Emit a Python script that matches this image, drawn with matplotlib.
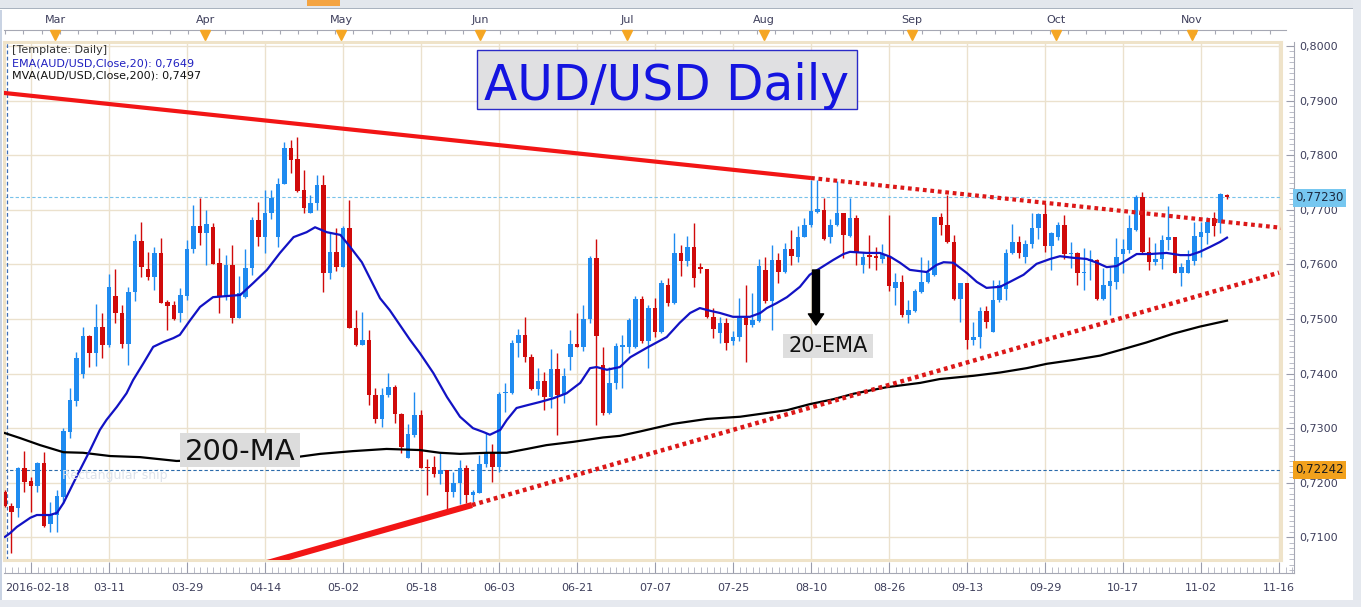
import matplotlib
matplotlib.use("Agg")
import matplotlib.pyplot as plt
import matplotlib.transforms as mtransforms
from matplotlib.patches import Rectangle, FancyArrowPatch
from matplotlib.ticker import MultipleLocator, FixedLocator, FuncFormatter
import numpy as np

W, H = 1361, 607

# daily AUD/USD candles (bar 0 = 2016-02-12 ... bar 188 = 2016-11-08)
opens = [
    .7184, .7158, .7154, .7227, .7203, .7194, .7236, .7125, .7141, .7174,
    .7293, .7350, .7399, .7469, .7438, .7485, .7452, .7542, .7511, .7454,
    .7549, .7643, .7592, .7577, .7621, .7531, .7526, .7511, .7542, .7628,
    .7670, .7657, .7668, .7603, .7542, .7599, .7502, .7540, .7593, .7681,
    .7650, .7694, .7650, .7747, .7813, .7793, .7736, .7694, .7712, .7745,
    .7584, .7623, .7595, .7667, .7484, .7452, .7462, .7361, .7317, .7361,
    .7376, .7326, .7245, .7287, .7324, .7229, .7229, .7216, .7223, .7183,
    .7200, .7227, .7178, .7181, .7234, .7256, .7229, .7364, .7364, .7456,
    .7471, .7430, .7372, .7386, .7357, .7408, .7361, .7430, .7454, .7449,
    .7500, .7612, .7416, .7328, .7383, .7449, .7449, .7449, .7537, .7460,
    .7520, .7476, .7562, .7529, .7621, .7606, .7632, .7595, .7592, .7504,
    .7474, .7493, .7460, .7467, .7502, .7489, .7496, .7590, .7533, .7608,
    .7586, .7628, .7614, .7650, .7672, .7696, .7700, .7650, .7672, .7694,
    .7652, .7685, .7599, .7616, .7616, .7610, .7616, .7557, .7568, .7507,
    .7515, .7549, .7568, .7581, .7687, .7672, .7641, .7537, .7566, .7462,
    .7467, .7515, .7476, .7535, .7555, .7621, .7641, .7614, .7637, .7667,
    .7692, .7634, .7650, .7672, .7619, .7621, .7584, .7606, .7608, .7537,
    .7560, .7568, .7619, .7626, .7663, .7723, .7623, .7604, .7610, .7645,
    .7650, .7584, .7584, .7606, .7650, .7658, .7685, .7676, .7727,
]
highs = [
    .7186, .7163, .7229, .7258, .7211, .7238, .7256, .7165, .7187, .7300,
    .7374, .7440, .7485, .7471, .7527, .7511, .7582, .7592, .7526, .7559,
    .7656, .7678, .7623, .7632, .7648, .7535, .7533, .7557, .7645, .7709,
    .7722, .7700, .7676, .7630, .7617, .7636, .7579, .7628, .7687, .7714,
    .7736, .7736, .7758, .7824, .7828, .7833, .7773, .7727, .7764, .7764,
    .7658, .7667, .7670, .7718, .7517, .7513, .7480, .7374, .7374, .7401,
    .7379, .7328, .7308, .7366, .7333, .7244, .7249, .7255, .7223, .7220,
    .7242, .7233, .7187, .7251, .7291, .7271, .7366, .7383, .7462, .7482,
    .7504, .7436, .7410, .7403, .7445, .7438, .7410, .7480, .7511, .7526,
    .7615, .7647, .7449, .7412, .7456, .7471, .7502, .7542, .7542, .7526,
    .7538, .7571, .7575, .7658, .7636, .7652, .7676, .7603, .7592, .7520,
    .7504, .7502, .7478, .7538, .7562, .7548, .7610, .7614, .7636, .7621,
    .7639, .7663, .7670, .7685, .7755, .7755, .7722, .7683, .7753, .7694,
    .7722, .7690, .7623, .7654, .7632, .7637, .7690, .7584, .7581, .7535,
    .7555, .7614, .7608, .7687, .7694, .7727, .7654, .7566, .7566, .7495,
    .7522, .7524, .7571, .7571, .7628, .7674, .7652, .7645, .7694, .7694,
    .7712, .7660, .7678, .7690, .7641, .7623, .7630, .7626, .7610, .7593,
    .7595, .7648, .7647, .7690, .7727, .7733, .7650, .7639, .7654, .7707,
    .7650, .7603, .7626, .7678, .7678, .7687, .7696, .7731, .7729,
]
lows = [
    .7156, .7071, .7137, .7183, .7147, .7183, .7119, .7110, .7110, .7163,
    .7282, .7341, .7392, .7412, .7414, .7429, .7449, .7493, .7447, .7416,
    .7533, .7577, .7571, .7553, .7529, .7480, .7498, .7494, .7535, .7621,
    .7636, .7599, .7601, .7511, .7535, .7493, .7502, .7538, .7581, .7634,
    .7621, .7683, .7632, .7747, .7767, .7733, .7694, .7694, .7700, .7549,
    .7573, .7588, .7595, .7484, .7450, .7452, .7342, .7310, .7302, .7357,
    .7310, .7255, .7245, .7284, .7227, .7178, .7211, .7198, .7150, .7174,
    .7161, .7163, .7165, .7181, .7229, .7201, .7220, .7330, .7363, .7430,
    .7421, .7370, .7361, .7333, .7337, .7288, .7346, .7407, .7449, .7441,
    .7493, .7306, .7324, .7326, .7372, .7374, .7438, .7447, .7456, .7410,
    .7467, .7474, .7524, .7527, .7579, .7597, .7559, .7584, .7502, .7465,
    .7456, .7443, .7452, .7460, .7421, .7485, .7495, .7529, .7480, .7566,
    .7584, .7599, .7604, .7650, .7668, .7694, .7645, .7639, .7670, .7612,
    .7650, .7599, .7584, .7593, .7590, .7603, .7551, .7526, .7504, .7493,
    .7513, .7548, .7566, .7579, .7654, .7639, .7535, .7495, .7445, .7452,
    .7447, .7484, .7476, .7531, .7535, .7619, .7612, .7603, .7630, .7647,
    .7623, .7590, .7645, .7610, .7593, .7562, .7553, .7571, .7535, .7535,
    .7507, .7555, .7584, .7621, .7661, .7621, .7590, .7599, .7592, .7626,
    .7584, .7560, .7584, .7599, .7614, .7637, .7652, .7658, .7720,
]
closes = [
    .7158, .7146, .7227, .7201, .7194, .7236, .7121, .7141, .7176, .7295,
    .7352, .7429, .7469, .7438, .7485, .7452, .7559, .7511, .7454, .7549,
    .7643, .7595, .7577, .7621, .7529, .7524, .7500, .7544, .7628, .7670,
    .7657, .7674, .7601, .7542, .7599, .7502, .7548, .7593, .7681, .7650,
    .7694, .7722, .7747, .7813, .7791, .7734, .7703, .7712, .7745, .7584,
    .7623, .7595, .7667, .7484, .7452, .7462, .7361, .7317, .7361, .7376,
    .7326, .7266, .7289, .7324, .7227, .7227, .7216, .7223, .7183, .7200,
    .7227, .7178, .7183, .7234, .7256, .7229, .7363, .7366, .7456, .7471,
    .7430, .7372, .7386, .7357, .7408, .7361, .7396, .7454, .7449, .7500,
    .7612, .7469, .7328, .7383, .7451, .7452, .7498, .7537, .7460, .7520,
    .7476, .7566, .7529, .7621, .7606, .7632, .7575, .7592, .7504, .7482,
    .7493, .7456, .7467, .7502, .7489, .7498, .7597, .7533, .7608, .7586,
    .7628, .7615, .7650, .7672, .7698, .7702, .7647, .7672, .7694, .7654,
    .7685, .7621, .7614, .7614, .7612, .7619, .7560, .7568, .7507, .7516,
    .7551, .7568, .7584, .7687, .7672, .7641, .7537, .7566, .7462, .7467,
    .7515, .7495, .7535, .7562, .7621, .7641, .7621, .7637, .7667, .7692,
    .7634, .7658, .7672, .7619, .7621, .7584, .7586, .7610, .7537, .7562,
    .7570, .7614, .7628, .7667, .7723, .7623, .7604, .7610, .7645, .7650,
    .7584, .7595, .7608, .7652, .7659, .7678, .7670, .7729, .7723,
]

# EMA(20) and MVA(200) as drawn on the chart (bar index, price)
ema_idx = [0, 0.8, 1.8, 3.9, 4.9, 6.9, 8.0, 9.0, 11.0, 13.1, 14.6, 15.6, 17.2, 18.7, 19.7,
           21.3, 22.8, 24.4, 25.9, 26.9, 28.5, 30.0, 32.0, 36.2, 38.2, 40.3, 42.3, 44.4,
           46.4, 47.7, 49.5, 51.6, 53.1, 54.9, 57.7, 59.2, 62.3, 63.8, 65.9, 68.0, 70.0,
           72.0, 73.6, 74.6, 76.2, 77.2, 78.7, 80.3, 82.3, 84.4, 86.4, 88.5, 90.0, 91.0,
           92.6, 94.6, 96.2, 98.7, 101.8, 103.8, 105.4, 106.9, 108.5, 110.0, 112.0, 114.6,
           116.2, 117.2, 118.7, 120.3, 122.3, 123.8, 125.4, 127.4, 129.0, 130.0, 132.6,
           134.6, 136.2, 137.7, 139.2, 141.8, 143.3, 144.4, 145.9, 148.0, 149.5, 151.0,
           153.1, 154.6, 156.7, 158.7, 160.8, 162.3, 164.4, 166.4, 168.0, 169.5, 171.0,
           172.6, 174.1, 176.2, 178.7, 180.8, 182.3, 183.8, 185.4, 186.9, 188.0]
ema_val = [.7101, .7108, .7119, .7136, .7141, .7141, .7145, .7163, .7211, .7260, .7297,
           .7315, .7339, .7364, .7388, .7419, .7449, .7458, .7465, .7471, .7498, .7522,
           .7540, .7544, .7566, .7590, .7621, .7650, .7659, .7668, .7659, .7654, .7632,
           .7604, .7538, .7516, .7462, .7438, .7401, .7357, .7321, .7300, .7293, .7288,
           .7297, .7315, .7337, .7342, .7348, .7355, .7364, .7383, .7410, .7412, .7407,
           .7412, .7430, .7447, .7467, .7493, .7511, .7520, .7515, .7511, .7504, .7504,
           .7511, .7520, .7529, .7540, .7559, .7581, .7593, .7608, .7619, .7623, .7621,
           .7621, .7614, .7603, .7590, .7586, .7599, .7604, .7603, .7584, .7568, .7557,
           .7559, .7568, .7581, .7601, .7610, .7615, .7612, .7610, .7603, .7595, .7597,
           .7608, .7619, .7619, .7621, .7617, .7617, .7623, .7632, .7641, .7649]
ma_idx = [0, 2.3, 5.4, 9.0, 12.0, 16.2, 20.8, 26.4, 45.4, 48.5, 53.5, 58.7, 63.8, 66.9,
          70.0, 74.1, 77.2, 80.3, 83.3, 87.4, 92.0, 94.6, 97.7, 102.8, 108.0, 113.1,
          120.3, 123.8, 127.4, 130.5, 135.6, 140.8, 143.8, 149.0, 153.1, 157.2, 160.3,
          164.4, 168.5, 171.5, 175.6, 179.7, 183.8, 188.0]
ma_val = [.7291, .7282, .7269, .7256, .7255, .7249, .7247, .7240, .7248, .7253, .7258,
          .7262, .7260, .7255, .7253, .7255, .7255, .7262, .7269, .7275, .7283, .7286,
          .7294, .7308, .7317, .7321, .7333, .7344, .7353, .7363, .7375, .7383, .7390,
          .7396, .7402, .7410, .7418, .7425, .7433, .7443, .7457, .7473, .7486, .7497]

# hand-drawn trend lines: solid part, then dotted projection
resist_idx = [-0.2, 124.0, 196.4]
resist_val = [0.79141, 0.77582, 0.76670]
support_idx = [40.0, 71.85, 196.0]
support_val = [0.70519, 0.71593, 0.75849]

date_labels = ["2016-02-18", "03-11", "03-29", "04-14", "05-02", "05-18", "06-03", "06-21",
               "07-07", "07-25", "08-10", "08-26", "09-13", "09-29", "10-17", "11-02", "11-16"]
date_bars = [4 + 12 * k for k in range(len(date_labels))]
month_labels = ["Mar", "Apr", "May", "Jun", "Jul", "Aug", "Sep", "Oct", "Nov"]
month_bars = [7.7, 30.8, 51.7, 73.1, 95.7, 116.8, 139.5, 161.7, 182.6]
price_levels = [0.71, 0.72, 0.73, 0.74, 0.75, 0.76, 0.77, 0.78, 0.79, 0.80]

last_price = 0.77230
marked_price = 0.72242
ema_last = 0.7649
ma_last = 0.7497


def bar_at(px):
    return (px - 5) / 6.5


def price_at(py):
    return 0.8 - (py - 46) / 5460


def fig_rect(x0, y0, x1, y1):
    return [x0 / W, 1 - y1 / H, (x1 - x0) / W, (y1 - y0) / H]


fig = plt.figure(figsize=(W / 100, H / 100), dpi=100)
fig.patch.set_facecolor("white")
pix = mtransforms.Affine2D().scale(1 / W, -1 / H).translate(0, 1) + fig.transFigure

# window chrome
fig.patches.append(Rectangle((0, 0), 1353, 8, transform=pix, fc="#e3e7ed", ec="none", zorder=0))
fig.patches.append(Rectangle((0, 8), 1353, 1, transform=pix, fc="#aab3bf", ec="none", zorder=0))
fig.patches.append(Rectangle((307, 0), 33, 6, transform=pix, fc="#f4a443", ec="none", zorder=1))
fig.patches.append(Rectangle((1353, 0), 8, H, transform=pix, fc="#e4e8ee", ec="none", zorder=0))
fig.patches.append(Rectangle((0, 600), W, 7, transform=pix, fc="#e6e9ef", ec="none", zorder=0))
fig.patches.append(Rectangle((0, 10), 2, 590, transform=pix, fc="#c9d3e3", ec="none", zorder=0))

# main price panel
ax = fig.add_axes(fig_rect(4, 42, 1281, 560))
ax.set_xlim(bar_at(4), bar_at(1281))
ax.set_ylim(price_at(560), price_at(42))
ax.set_xticks(date_bars)
ax.set_yticks(price_levels)
ax.tick_params(length=0, labelbottom=False, labelleft=False)
ax.grid(color="#ebe1cd", lw=1)
ax.set_axisbelow(True)
for sp in ax.spines.values():
    sp.set_color("#efe3c9")
    sp.set_linewidth(2.2)

o = np.array(opens)
h = np.array(highs)
lo = np.array(lows)
c = np.array(closes)
x = np.arange(len(o))
cols = np.where(c >= o, "#1f8bf0", "#d00a0a")
ax.vlines(x, lo, h, colors=cols, lw=1, zorder=3)
ax.bar(x, np.maximum(np.abs(c - o), 0.00025), bottom=np.minimum(o, c), width=0.76,
       color=cols, lw=0, zorder=4)

ax.plot(ma_idx, ma_val, color="black", lw=1.6, zorder=5)
ax.plot(ema_idx, ema_val, color="#1212c4", lw=1.6, zorder=5)

ax.axhline(last_price, color="#78c2ea", lw=0.8, dashes=(3, 2), zorder=2)
ax.axhline(marked_price, color="#2a6aaa", lw=0.8, dashes=(3, 2), zorder=2)
ax.axvline(bar_at(7.3), color="#3f6fb5", lw=0.9, dashes=(3, 2), zorder=2)

ax.plot(resist_idx[:2], resist_val[:2], color="#f21515", lw=3.0, solid_capstyle="butt", zorder=6)
ax.plot(resist_idx[1:], resist_val[1:], color="#dc1818", lw=3.0, dashes=(0.9, 0.9),
        dash_capstyle="butt", zorder=6)
ax.plot(support_idx[:2], support_val[:2], color="#f21515", lw=4.4, solid_capstyle="butt", zorder=6)
ax.plot(support_idx[1:], support_val[1:], color="#dc1818", lw=3.2, dashes=(0.85, 0.85),
        dash_capstyle="butt", zorder=6)

ax.add_patch(FancyArrowPatch((bar_at(816), price_at(270)), (bar_at(816), price_at(325)),
                             arrowstyle="simple,head_length=0.8,head_width=1.1,tail_width=0.5",
                             mutation_scale=10, color="black", shrinkA=0, shrinkB=0, zorder=7))

# right price scale
ax_r = fig.add_axes(fig_rect(1282, 42, 1294, 573))
ax_r.set_facecolor("none")
ax_r.set_ylim(price_at(573), price_at(42))
ax_r.set_xticks([])
for name in ["left", "top", "bottom"]:
    ax_r.spines[name].set_visible(False)
ax_r.spines["right"].set_color("#a6a8b4")
ax_r.yaxis.tick_right()
ax_r.yaxis.set_major_locator(FixedLocator(price_levels))
ax_r.yaxis.set_minor_locator(MultipleLocator(0.001))
ax_r.yaxis.set_major_formatter(FuncFormatter(lambda v, _: f"{v:.4f}".replace(".", ",")))
ax_r.tick_params(axis="y", which="major", direction="in", length=6, color="#9a9cab",
                 labelsize=8, labelcolor="#3e3f5c", pad=4)
ax_r.tick_params(axis="y", which="minor", direction="in", length=3.5, color="#b0b2bf")

# bottom date scale
ax_b = fig.add_axes(fig_rect(4, 560, 1294, 573))
ax_b.set_facecolor("none")
ax_b.set_xlim(bar_at(4), bar_at(1294))
ax_b.set_yticks([])
for name in ["left", "top", "right"]:
    ax_b.spines[name].set_visible(False)
ax_b.spines["bottom"].set_color("#a6a8b4")
ax_b.set_xticks(date_bars, date_labels)
ax_b.xaxis.set_minor_locator(MultipleLocator(1))
ax_b.tick_params(axis="x", which="major", direction="in", length=8, color="#9a9cab",
                 labelsize=8, labelcolor="#3e3f5c", pad=7)
ax_b.tick_params(axis="x", which="minor", direction="in", length=4, color="#b0b2bf")
first = ax_b.get_xticklabels()[0]
first.set_transform(first.get_transform() + mtransforms.ScaledTranslation(0.06, 0, fig.dpi_scale_trans))

# top month scale
ax_t = fig.add_axes(fig_rect(4, 30, 1286, 42))
ax_t.set_facecolor("none")
ax_t.set_xlim(bar_at(4), bar_at(1286))
ax_t.set_yticks([])
for name in ["left", "bottom", "right"]:
    ax_t.spines[name].set_visible(False)
ax_t.spines["top"].set_color("#a6a8b4")
ax_t.xaxis.tick_top()
ax_t.xaxis.set_major_locator(MultipleLocator(2.82))
ax_t.tick_params(axis="x", direction="in", length=3, color="#a6a8b4", labeltop=False)
tr = mtransforms.blended_transform_factory(ax_t.transData, ax_t.transAxes)
for lab, pos in zip(month_labels, month_bars):
    ax_t.text(pos, 1.85, lab, transform=tr, ha="center", va="center", fontsize=8,
              color="#3e3f5c", clip_on=False)
ax_t.plot(month_bars, [0.62] * len(month_bars), "v", ms=6.5, color="#f5a623",
          transform=tr, clip_on=False, zorder=5)

# price flags on the right scale
fig.text(1295 / W, 1 - 198 / H, f"{last_price:.5f}".replace(".", ","), fontsize=8.5,
         color="#1c2a40", va="center", ha="left",
         bbox=dict(boxstyle="square,pad=0.2", fc="#76c7f0", ec="none"))
fig.text(1295 / W, 1 - 470 / H, f"{marked_price:.5f}".replace(".", ","), fontsize=8.5,
         color="#1c1c1c", va="center", ha="left",
         bbox=dict(boxstyle="square,pad=0.2", fc="#f2a11c", ec="none"))

# indicator legend
fig.text(12, 50, "[Template: Daily]", transform=pix, fontsize=8, color="#333333", va="center")
fig.text(12, 63, f"EMA(AUD/USD.Close,20): {ema_last:.4f}".replace(".", ","), transform=pix,
         fontsize=8, color="#1f1fc0", va="center")
fig.text(12, 76, f"MVA(AUD/USD.Close,200): {ma_last:.4f}".replace(".", ","), transform=pix,
         fontsize=8, color="#111111", va="center")

# faint snip overlay
fig.text(62, 479, "Rectangular snip", transform=pix, fontsize=9, color="#dde2ea")

# title box
fig.patches.append(Rectangle((477, 50), 380, 59, transform=pix, fc="#e0e0e2", ec="#2a2ac8",
                             lw=1, zorder=8))
fig.text(667, 100, "AUD/USD Daily", transform=pix, fontsize=35, color="#1414e0",
         ha="center", va="baseline", zorder=9)

# labels on the chart
fig.patches.append(Rectangle((180, 433), 120, 34, transform=pix, fc="#dcdcdc", ec="none", zorder=8))
fig.text(240, 460, "200-MA", transform=pix, fontsize=21, color="#111111", ha="center",
         va="baseline", zorder=9)
fig.patches.append(Rectangle((783, 334), 90, 24, transform=pix, fc="#dedede", ec="none", zorder=8))
fig.text(828, 352, "20-EMA", transform=pix, fontsize=15, color="#111111", ha="center",
         va="baseline", zorder=9)

fig.savefig("out.png", dpi=100)
